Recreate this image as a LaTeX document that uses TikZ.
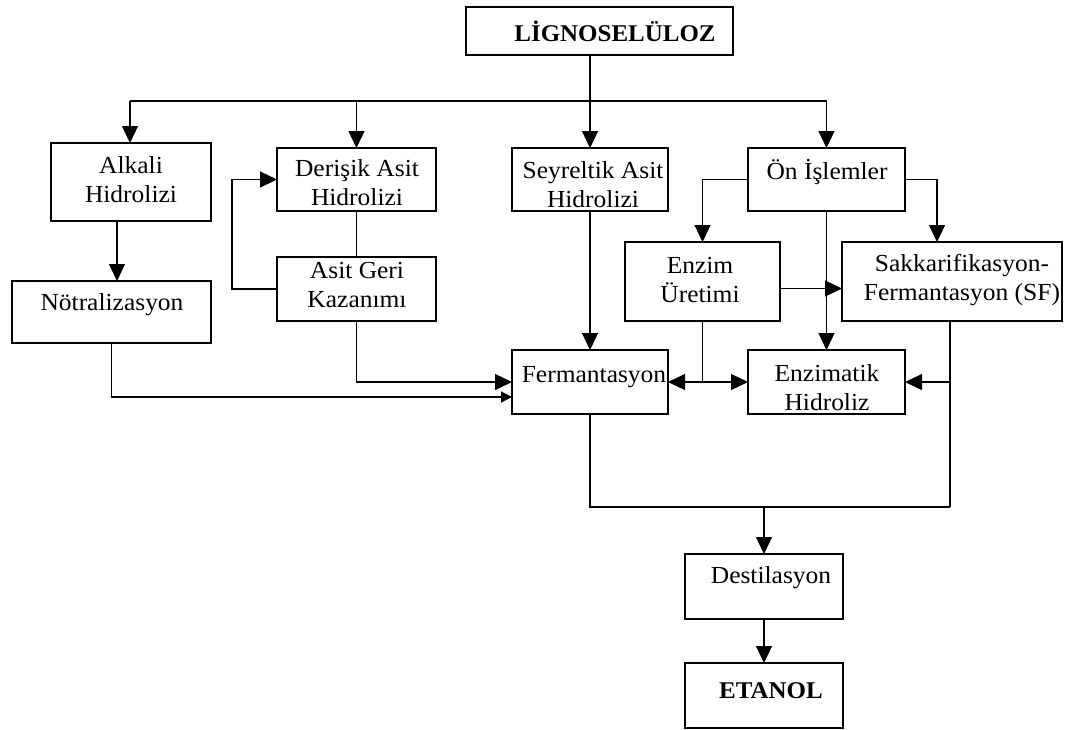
\documentclass[tikz,border=0pt]{standalone}
\usepackage{fontspec}
\setmainfont[FakeStretch=1.04]{Liberation Serif}
\usetikzlibrary{arrows.meta}
\newcommand\mybox[5]{\node[box, minimum width={(#4-#2)*1pt}, minimum height={(#5-#3)*1pt}] (#1) at ({(#2+#4)/2},{(#3+#5)/2}) {};}
\begin{document}
\begin{tikzpicture}[x=1pt,y=-1pt,
  box/.style={draw, line width=1.2pt, rectangle, inner sep=0pt, outer sep=0pt},
  lbl/.style={font=\fontsize{24.5}{29}\selectfont, align=center, inner sep=0pt},
  ln/.style={line width=1.2pt},
  arr/.style={line width=1.2pt, -{Triangle[length=17pt,width=16pt]}},
  sarr/.style={line width=1.2pt, -{Triangle[length=11pt,width=11pt]}}]
\useasboundingbox (0,0) rectangle (1086,729);
% boxes
\mybox{L}{466}{7}{733}{55}
\mybox{AH}{51}{143}{211}{221}
\mybox{DA}{277}{148}{436}{211}
\mybox{SA}{512}{148}{668}{211}
\mybox{ON}{748}{148}{905}{211}
\mybox{NO}{12}{281}{211}{343}
\mybox{AG}{277}{257}{436}{321}
\mybox{EU}{625}{242}{780}{321}
\mybox{SF}{842}{242}{1062}{321}
\mybox{FE}{512}{350}{668}{414}
\mybox{EH}{748}{350}{905}{414}
\mybox{DE}{685}{554}{843}{619}
\mybox{ET}{685}{663}{843}{728}
% labels
\node[lbl, font=\fontsize{24}{29}\selectfont\bfseries] (tL) at (615,31) {LİGNOSELÜLOZ};
\node[lbl] (tAH) at (131,180) {Alkali\\Hidrolizi};
\node[lbl] (tDA) at (357,183) {Derişik Asit\\Hidrolizi};
\node[lbl] (tSA) at (593,185) {Seyreltik Asit\\Hidrolizi};
\node[lbl] (tON) at (827,172) {Ön İşlemler};
\node[lbl] (tNO) at (112,305) {Nötralizasyon};
\node[lbl] (tAG) at (357,285) {Asit Geri\\Kazanımı};
\node[lbl] (tEU) at (700,280) {Enzim\\Üretimi};
\node[lbl] (tSF) at (962,280) {Sakkarifikasyon-\\Fermantasyon (SF)};
\node[lbl] (tFE) at (594,377) {Fermantasyon};
\node[lbl] (tEH) at (827,388) {Enzimatik\\Hidroliz};
\node[lbl] (tDE) at (771,578) {Destilasyon};
\node[lbl, font=\fontsize{24}{29}\selectfont\bfseries] (tET) at (771,691) {ETANOL};
% connectors
\coordinate (hb) at (0,101);
\coordinate (bb) at (0,507);
\draw[ln] (SA.north |- L.south) -- (SA.north |- hb);
\draw[arr] (SA.north |- hb) -- (SA.north);
\draw[ln] ([xshift=-1pt]AH.north |- hb) -- (ON.north |- hb);
\draw[arr] ([xshift=-1pt]AH.north |- hb) -- ([xshift=-1pt]AH.north);
\draw[arr] (DA.north |- hb) -- (DA.north);
\draw[arr] (ON.north |- hb) -- (ON.north);
\draw[arr] ([xshift=-14pt]AH.south) -- ([xshift=-14pt]AH.south |- NO.north);
\draw[ln] (DA.south) -- (AG.north);
\draw[arr] (AG.west) -- ++(-45,0) |- (DA.west);
\draw[arr] (AG.south) |- (FE.west);
\draw[sarr] (NO.south) |- ([yshift=-15pt]FE.west);
\draw[arr] (SA.south) -- (FE.north);
\draw[arr] (ON.west) -| (EU.north);
\draw[arr] (ON.east) -| ([xshift=-15pt]SF.north);
\draw[arr] (ON.south) -- (EH.north);
\draw[arr] ([yshift=-7pt]EU.east) -- ([yshift=-7pt]EU.east -| SF.west);
\coordinate (j) at (EU.south |- FE.east);
\draw[ln] (EU.south) -- (j);
\draw[arr] (j) -- (FE.east);
\draw[arr] (j) -- (EH.west);
\draw[ln] ([xshift=-2pt]SF.south) -- ([xshift=-2pt]SF.south |- bb);
\draw[arr] ([xshift=-2pt]SF.south |- EH.east) -- (EH.east);
\draw[ln] (FE.south) |- ([xshift=-2pt]SF.south |- bb);
\draw[arr] (DE.north |- bb) -- (DE.north);
\draw[arr] (DE.south) -- (ET.north);
\end{tikzpicture}
\end{document}
